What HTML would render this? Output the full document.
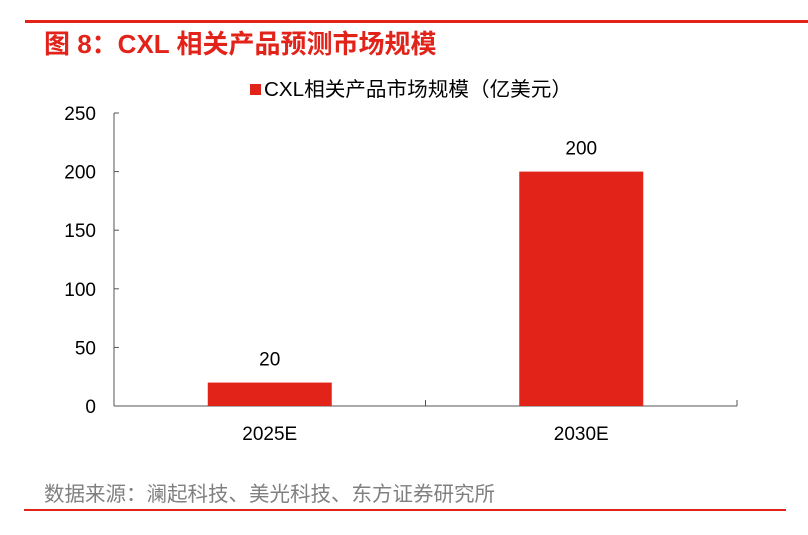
<!DOCTYPE html>
<html><head><meta charset="utf-8"><style>
body{margin:0;background:#fff;width:808px;height:535px;overflow:hidden;font-family:"Liberation Sans","Noto Sans CJK SC",sans-serif}
</style></head><body>
<svg width="808" height="535" style="position:absolute;left:0;top:0">
<rect x="25" y="20" width="783" height="3" fill="#e2231a"/>
<text x="44" y="53" font-size="26" font-weight="600" fill="#e2231a">图 8：CXL 相关产品预测市场规模</text>
<g>
<rect x="250" y="84" width="11" height="11" fill="#e2231a"/>
<text x="264" y="96" font-size="20" fill="#000" textLength="308" lengthAdjust="spacingAndGlyphs">CXL相关产品市场规模（亿美元）</text>
</g>
<g id="axes"></g>
<g id="bars"></g>
<text x="44" y="501" font-size="20.5" fill="#808080">数据来源：澜起科技、美光科技、东方证券研究所</text>
<rect x="24" y="509" width="762" height="2" fill="#e2231a"/>
</svg>
<script>
const categories=["2025E","2030E"];
const values=[20,200];
const yTicks=[0,50,100,150,200,250];
const x0=114,x1=737,yBase=406,yTop=113,yMax=250;
const y=v=>yBase-(v/yMax)*(yBase-yTop);
const band=(x1-x0)/categories.length;
const NS="http://www.w3.org/2000/svg";
function mk(t,a,p){const e=document.createElementNS(NS,t);for(const k in a)e.setAttribute(k,a[k]);p.appendChild(e);return e;}
const ax=document.getElementById('axes'),bg=document.getElementById('bars');
const yl=mk('line',{x1:x0,y1:yTop,x2:x0,y2:yBase,stroke:'#555','stroke-width':1},ax);


const xl=mk('line',{x1:x0,y1:yBase,x2:x1,y2:yBase,stroke:'#555','stroke-width':1},ax);


yTicks.forEach(t=>{
 mk('line',{x1:x0,y1:y(t),x2:x0+5,y2:y(t),stroke:'#555'},ax);
 const tx=mk('text',{x:96,y:y(t)+7,'font-size':19,'text-anchor':'end',fill:'#000'},ax);tx.textContent=t;
 
 
});
for(let i=0;i<=categories.length;i++){mk('line',{x1:x0+i*band,y1:yBase,x2:x0+i*band,y2:yBase-6,stroke:'#555'},ax);}
categories.forEach((c,i)=>{
 const cx=x0+band*(i+0.5),w=124;
 const r=mk('rect',{x:cx-w/2,y:y(values[i]),width:w,height:yBase-y(values[i]),fill:'#e2231a'},bg);
 
 
 const lv=mk('text',{x:cx,y:y(values[i])-17,'font-size':19,'text-anchor':'middle',fill:'#000'},bg);lv.textContent=values[i];
 
 
 const lc=mk('text',{x:cx,y:yBase+34,'font-size':19,'text-anchor':'middle',fill:'#000'},ax);lc.textContent=c;
 
 
});
</script>
</body></html>
